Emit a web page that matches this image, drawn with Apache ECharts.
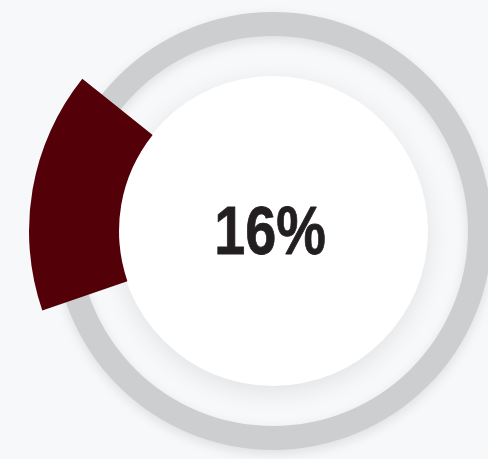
<!DOCTYPE html>
<html>
<head>
<meta charset="utf-8">
<script src="https://cdn.jsdelivr.net/npm/echarts@6/dist/echarts.min.js"></script>
<style>
  html, body { margin: 0; padding: 0; background: #f7f8fa; }
  #chart { width: 488px; height: 459px; }
</style>
</head>
<body>
<div id="chart"></div>
<script>
// data
const categories = ["done", "rest"];
const values = [16, 84];
const ringValues = [100];
const centerValues = [100];

const chart = echarts.init(document.getElementById("chart"));
const center = [273, 231];

const option = {
  backgroundColor: "#f7f8fa",
  animation: false,
  graphic: [
    {
      type: "text",
      x: 270,
      y: 235,
      scaleX: 0.82,
      z: 100,
      style: {
        text: values[0] + "%",
        font: 'bold 68px "Liberation Sans"',
        fill: "#231f20",
        stroke: "#231f20",
        lineWidth: 0.8,
        align: "center",
        verticalAlign: "middle",
      },
    },
  ],
  series: [
    // gray outer ring
    {
      type: "pie",
      center: center,
      radius: [195, 219],
      silent: true,
      z: 1,
      label: { show: false },
      itemStyle: {
        color: "#cdced0",
        shadowBlur: 12,
        shadowOffsetY: 4,
        shadowColor: "rgba(0,0,0,0.10)",
      },
      data: ringValues.map((v) => ({ value: v })),
    },
    // white center disc
    {
      type: "pie",
      center: center,
      radius: [0, 155],
      silent: true,
      z: 2,
      label: { show: false },
      itemStyle: {
        color: "#ffffff",
        shadowBlur: 24,
        shadowOffsetY: 6,
        shadowColor: "rgba(0,0,0,0.09)",
      },
      data: centerValues.map((v) => ({ value: v })),
    },
    // progress sector
    {
      type: "pie",
      center: center,
      radius: [154, 244],
      startAngle: 199,
      clockwise: true,
      silent: true,
      z: 3,
      label: { show: false },
      data: values.map((v, i) => ({
        name: categories[i],
        value: v,
        itemStyle: { color: i === 0 ? "#540009" : "transparent" },
      })),
    },
  ],
};

chart.setOption(option);
</script>
</body>
</html>
